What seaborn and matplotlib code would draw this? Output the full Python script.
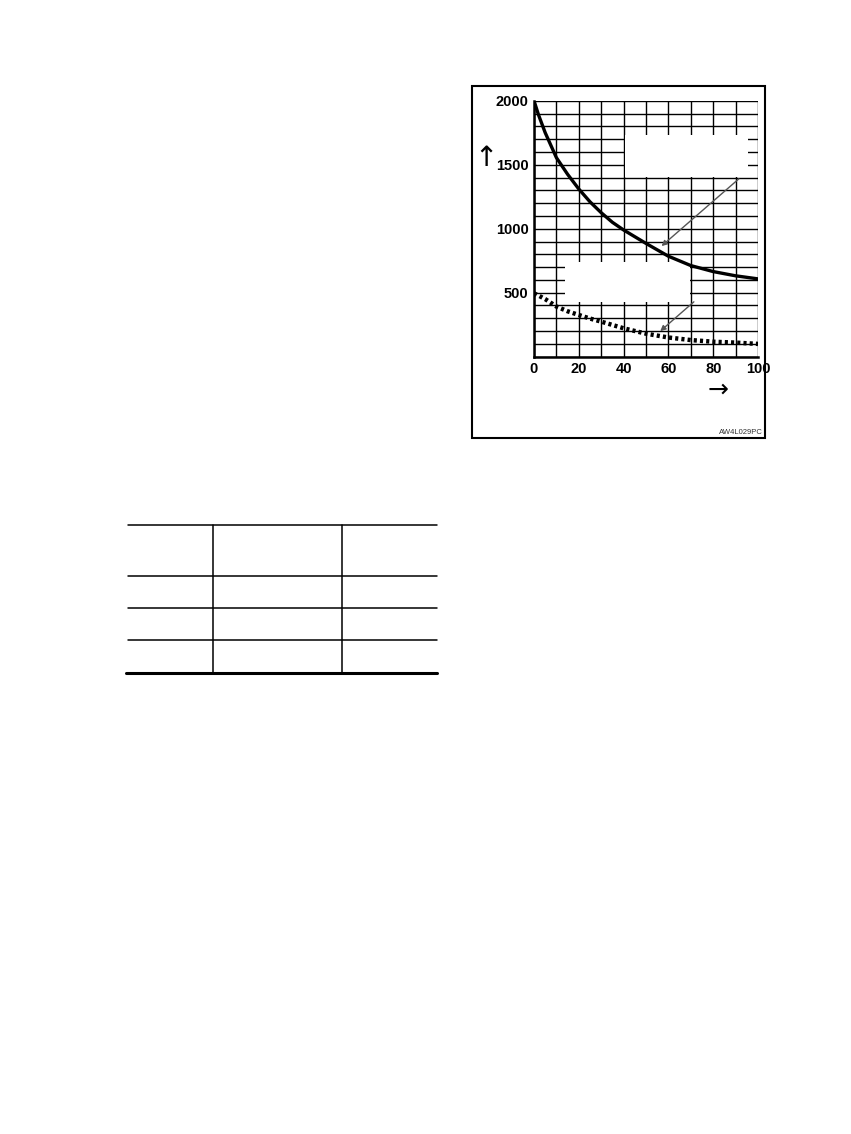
import matplotlib
matplotlib.use("Agg")
import matplotlib.pyplot as plt
from matplotlib.patches import Rectangle
from matplotlib.lines import Line2D
import seaborn as sns
import pandas as pd
import numpy as np

# %% Data
x_vals = [0, 2, 5, 10, 15, 20, 25, 30, 35, 40, 50, 60, 70, 80, 90, 100]
solid_vals = [2000, 1890, 1750, 1555, 1425, 1310, 1210, 1125, 1050, 990, 885, 785, 712, 665, 632, 608]
dotted_vals = [495, 478, 450, 392, 355, 326, 298, 274, 248, 222, 180, 150, 130, 117, 110, 100]

x_ticks = [0, 20, 40, 60, 80, 100]
y_ticks = [500, 1000, 1500, 2000]

df = pd.DataFrame({"x": x_vals, "solid": solid_vals, "dotted": dotted_vals})

W, H = 851, 1134
def fx(px):
    return px / W
def fy(py):
    return 1 - py / H

sns.set_theme(style="white")
plt.rcParams['font.family'] = ['Liberation Sans', 'DejaVu Sans']
plt.rcParams['text.color'] = 'black'

fig = plt.figure(figsize=(W / 100, H / 100), dpi=100)

# %% Chart
ax = fig.add_axes([fx(534), fy(356.7), fx(758) - fx(534), fy(100.7) - fy(356.7)])
ax.set_xlim(0, 100)
ax.set_ylim(0, 2000)
ax.set_xticks(np.arange(0, 101, 10))
ax.set_yticks(np.arange(0, 2001, 100))
ax.grid(True, color="black", linewidth=1.0)
ax.set_axisbelow(True)
ax.set_xticklabels([str(t) if t in x_ticks else "" for t in np.arange(0, 101, 10)],
                   fontsize=10.5, fontweight="bold")
ax.set_yticklabels([str(t) if t in y_ticks else "" for t in np.arange(0, 2001, 100)],
                   fontsize=10.5, fontweight="bold")
ax.tick_params(length=0, pad=4, labelcolor="black")
for side in ["top", "right"]:
    ax.spines[side].set_visible(False)
for side in ["left", "bottom"]:
    ax.spines[side].set_linewidth(1.8)
    ax.spines[side].set_color("black")

# label boxes (text blanked out in the original)
ax.add_patch(Rectangle((40.6, 1404), 55, 328, facecolor="white", edgecolor="none", zorder=1.5))
ax.add_patch(Rectangle((13.8, 427), 55.8, 313, facecolor="white", edgecolor="none", zorder=1.5))

sns.lineplot(data=df, x="x", y="solid", ax=ax, color="black", linewidth=2.4, zorder=3)
sns.lineplot(data=df, x="x", y="dotted", ax=ax, color="black", linewidth=3.2,
             linestyle=(0, (0.7, 0.7)), zorder=3)
ax.set_xlabel("")
ax.set_ylabel("")

ax.annotate("", xy=(56, 850), xytext=(92.4, 1404),
            arrowprops=dict(arrowstyle="-|>", color="#555555", lw=1.0, mutation_scale=8), zorder=4)
ax.annotate("", xy=(55.4, 185), xytext=(72.3, 443),
            arrowprops=dict(arrowstyle="-|>", color="#555555", lw=1.0, mutation_scale=8), zorder=4)

# axis direction arrows and figure code
fig.text(fx(486), fy(158), "\u2191", fontsize=20, ha="center", va="center", family="DejaVu Sans")
fig.text(fx(718), fy(390), "\u2192", fontsize=18, ha="center", va="center", family="DejaVu Sans")
fig.text(fx(763), fy(433), "AW4L029PC", fontsize=5.5, ha="right", va="center", color="#333333")

# frame round the chart
fig.add_artist(Rectangle((fx(472), fy(438)), fx(765) - fx(472), fy(86) - fy(438),
                         transform=fig.transFigure, fill=False, edgecolor="black", linewidth=1.5))

# %% Empty table
table_left, table_right = 128, 437
row_lines = [525, 576, 608, 640]
col_lines = [213, 342]
for r in row_lines:
    fig.add_artist(Line2D([fx(table_left), fx(table_right)], [fy(r), fy(r)],
                          transform=fig.transFigure, color="black", linewidth=1.1))
fig.add_artist(Line2D([fx(table_left - 2), fx(table_right)], [fy(673), fy(673)],
                      transform=fig.transFigure, color="black", linewidth=2.2))
for c in col_lines:
    fig.add_artist(Line2D([fx(c), fx(c)], [fy(525), fy(673)],
                          transform=fig.transFigure, color="black", linewidth=1.1))

fig.savefig("out.png", dpi=100, facecolor="white")
